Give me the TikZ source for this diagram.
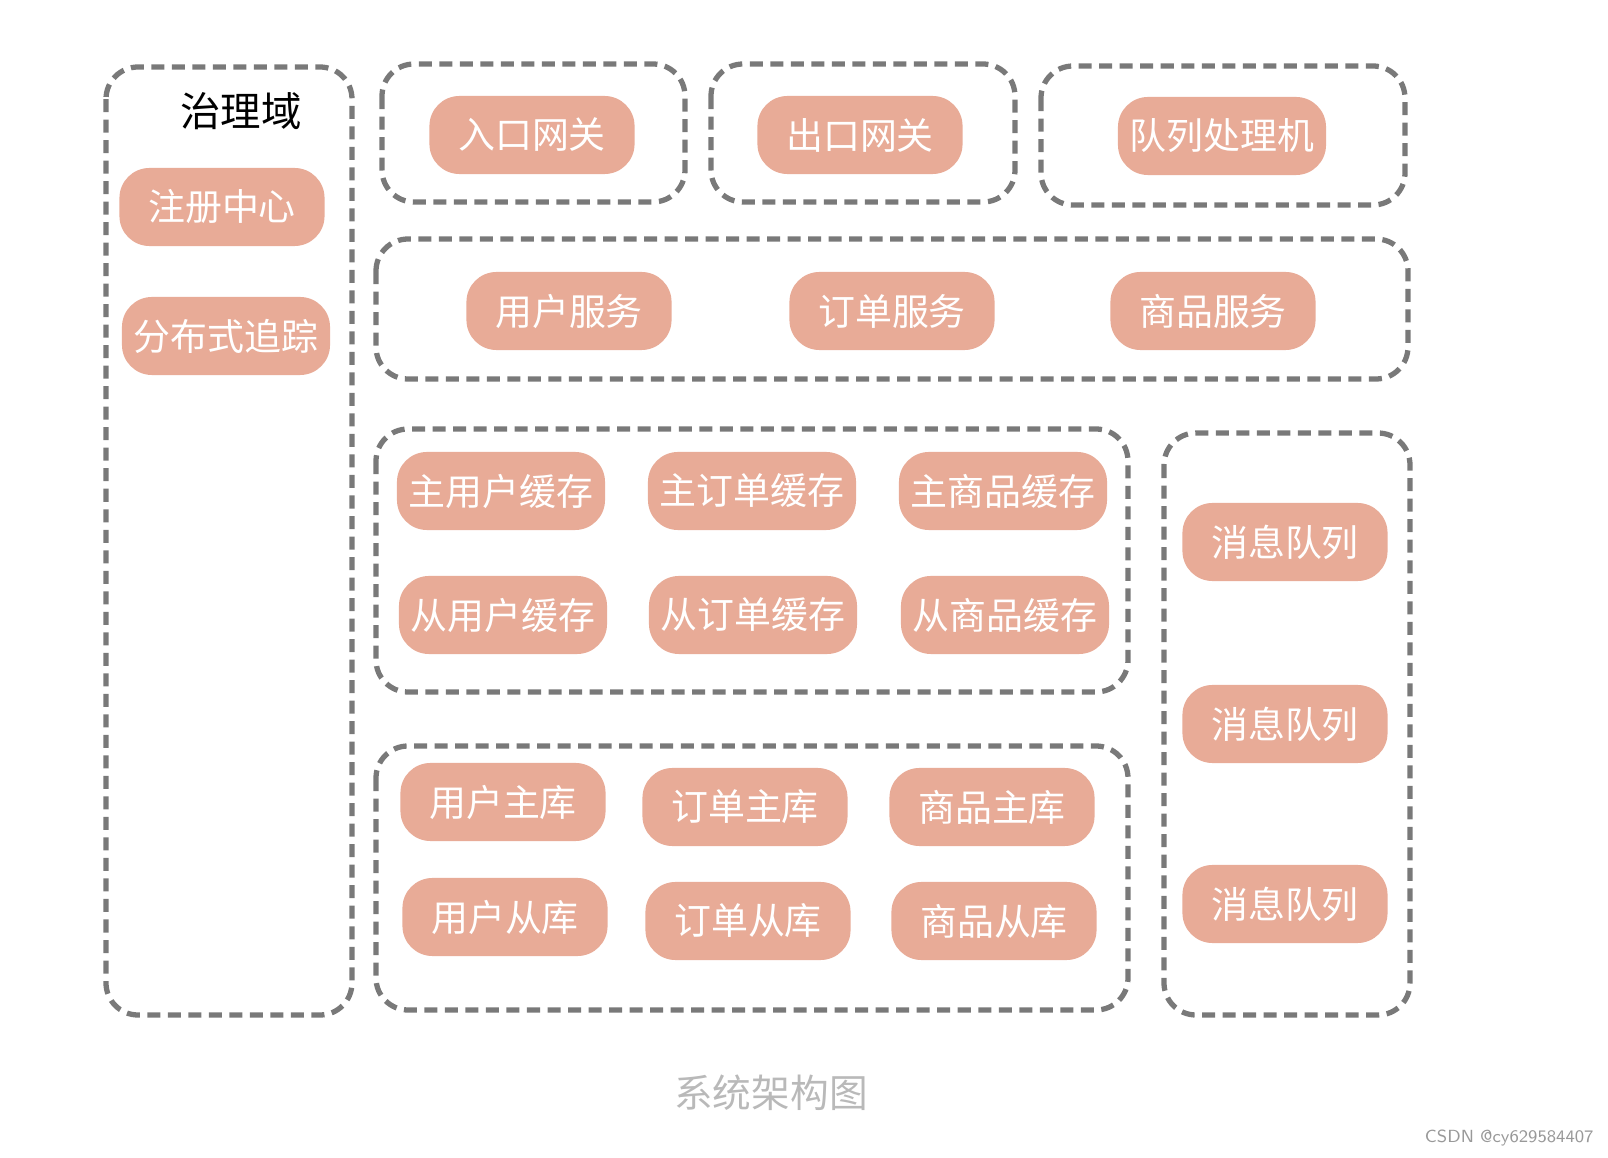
\documentclass[tikz,border=0pt]{standalone}
\usepackage{fontspec}
\setmainfont{Noto Sans CJK SC}
\begin{document}
\begin{tikzpicture}[x=0.01cm, y=-0.01cm,
    grp/.style={draw=gray!95!black, line width=1.5pt, dash pattern=on 0.13cm off 0.075cm, rounded corners=0.32cm},
    svc/.style={fill=salmon, draw=none, rounded corners=0.3cm, minimum width=2.05cm, minimum height=0.78cm, text=white, font=\fontsize{10.5}{12}\selectfont},
    ]
    \definecolor{salmon}{HTML}{E8AB97}
    \useasboundingbox (0,0) rectangle (1608,1158);

    % groups
    \draw[grp] (106,67) rectangle (352,1015);
    \draw[grp] (382,64) rectangle (685,202);
    \draw[grp] (711,64) rectangle (1015,202);
    \draw[grp] (1041,66) rectangle (1405,205);
    \draw[grp] (376,239) rectangle (1408,379);
    \draw[grp] (376,429) rectangle (1128,692);
    \draw[grp] (376,746) rectangle (1128,1010);
    \draw[grp] (1164,433) rectangle (1410,1015);

    % governance
    \node (govern) at (241,111) {\fontsize{11.5}{13}\selectfont 治理域};
    \node[svc] (registry) at (222,207) {注册中心};
    \node[svc] (tracing) at (226,336) {分布式追踪};

    % gateways
    \node[svc] (ingress) at (532,135) {入口网关};
    \node[svc] (egress) at (860,135) {出口网关};
    \node[svc] (queueproc) at (1222,136) {队列处理机};

    % services
    \node[svc] (usersvc) at (569,311) {用户服务};
    \node[svc] (ordersvc) at (892,311) {订单服务};
    \node[svc] (goodssvc) at (1213,311) {商品服务};

    % caches
    \node[svc] (usercacheM) at (501,491) {主用户缓存};
    \node[svc] (ordercacheM) at (752,491) {主订单缓存};
    \node[svc] (goodscacheM) at (1003,491) {主商品缓存};
    \node[svc] (usercacheS) at (503,615) {从用户缓存};
    \node[svc] (ordercacheS) at (753,615) {从订单缓存};
    \node[svc] (goodscacheS) at (1005,615) {从商品缓存};

    % databases
    \node[svc] (userdbM) at (503,802) {用户主库};
    \node[svc] (orderdbM) at (745,807) {订单主库};
    \node[svc] (goodsdbM) at (992,807) {商品主库};
    \node[svc] (userdbS) at (505,917) {用户从库};
    \node[svc] (orderdbS) at (748,921) {订单从库};
    \node[svc] (goodsdbS) at (994,921) {商品从库};

    % message queues
    \node[svc] (mqA) at (1285,542) {消息队列};
    \node[svc] (mqB) at (1285,724) {消息队列};
    \node[svc] (mqC) at (1285,904) {消息队列};

    \node[text=gray!55] (caption) at (771,1093) {\fontsize{11}{13}\selectfont 系统架构图};
    \node[text=gray!80, anchor=east] (mark) at (1606,1138) {\fontfamily{lmss}\fontsize{5}{6}\selectfont CSDN @cy629584407};
\end{tikzpicture}
\end{document}
